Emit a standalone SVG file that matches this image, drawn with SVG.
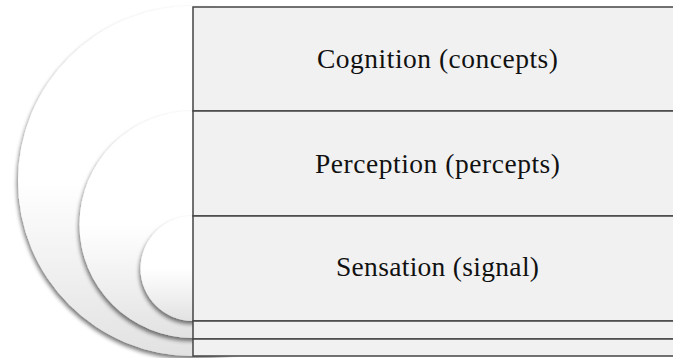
<svg xmlns="http://www.w3.org/2000/svg" width="673" height="358" viewBox="0 0 673 358">
<defs>
<linearGradient id="disc" x1="0" y1="0" x2="0" y2="1">
<stop offset="0" stop-color="#ffffff"/>
<stop offset="0.5" stop-color="#ffffff"/>
<stop offset="1" stop-color="#e2e2e2"/>
</linearGradient>
<filter id="sh" x="-20%" y="-20%" width="140%" height="140%">
<feGaussianBlur in="SourceAlpha" stdDeviation="2"/>
<feOffset dx="-1" dy="2.5" result="b"/>
<feComponentTransfer><feFuncA type="linear" slope="0.55"/></feComponentTransfer>
<feMerge><feMergeNode/><feMergeNode in="SourceGraphic"/></feMerge>
</filter>
<style>
.disc{fill:url(#disc);filter:url(#sh)}
.row{fill:#f1f1f1;stroke:#444444;stroke-width:1.5}
.lbl{font-family:"Liberation Serif","Times New Roman",serif;font-size:27.5px;fill:#111111;text-anchor:middle}
</style>
</defs>
<rect width="673" height="358" fill="#ffffff"/>
<g id="discs">
<circle class="disc" cx="193" cy="181" r="175"/>
<circle class="disc" cx="193" cy="224.5" r="113.5"/>
<circle class="disc" cx="193" cy="268.5" r="52.5"/>
</g>
<g id="cognition">
<rect class="row" x="193" y="7" width="495" height="104"/>
<text class="lbl" x="437.5" y="68" textLength="241" lengthAdjust="spacing">Cognition (concepts)</text>
</g>
<g id="perception">
<rect class="row" x="193" y="111" width="495" height="105"/>
<text class="lbl" x="437.5" y="173" textLength="245" lengthAdjust="spacing">Perception (percepts)</text>
</g>
<g id="sensation">
<rect class="row" x="193" y="216" width="495" height="105"/>
<text class="lbl" x="437.5" y="276" textLength="203" lengthAdjust="spacing">Sensation (signal)</text>
</g>
<g id="row4">
<rect class="row" x="193" y="321" width="495" height="18"/>
</g>
<g id="row5">
<rect class="row" x="193" y="339" width="495" height="17"/>
</g>
</svg>
